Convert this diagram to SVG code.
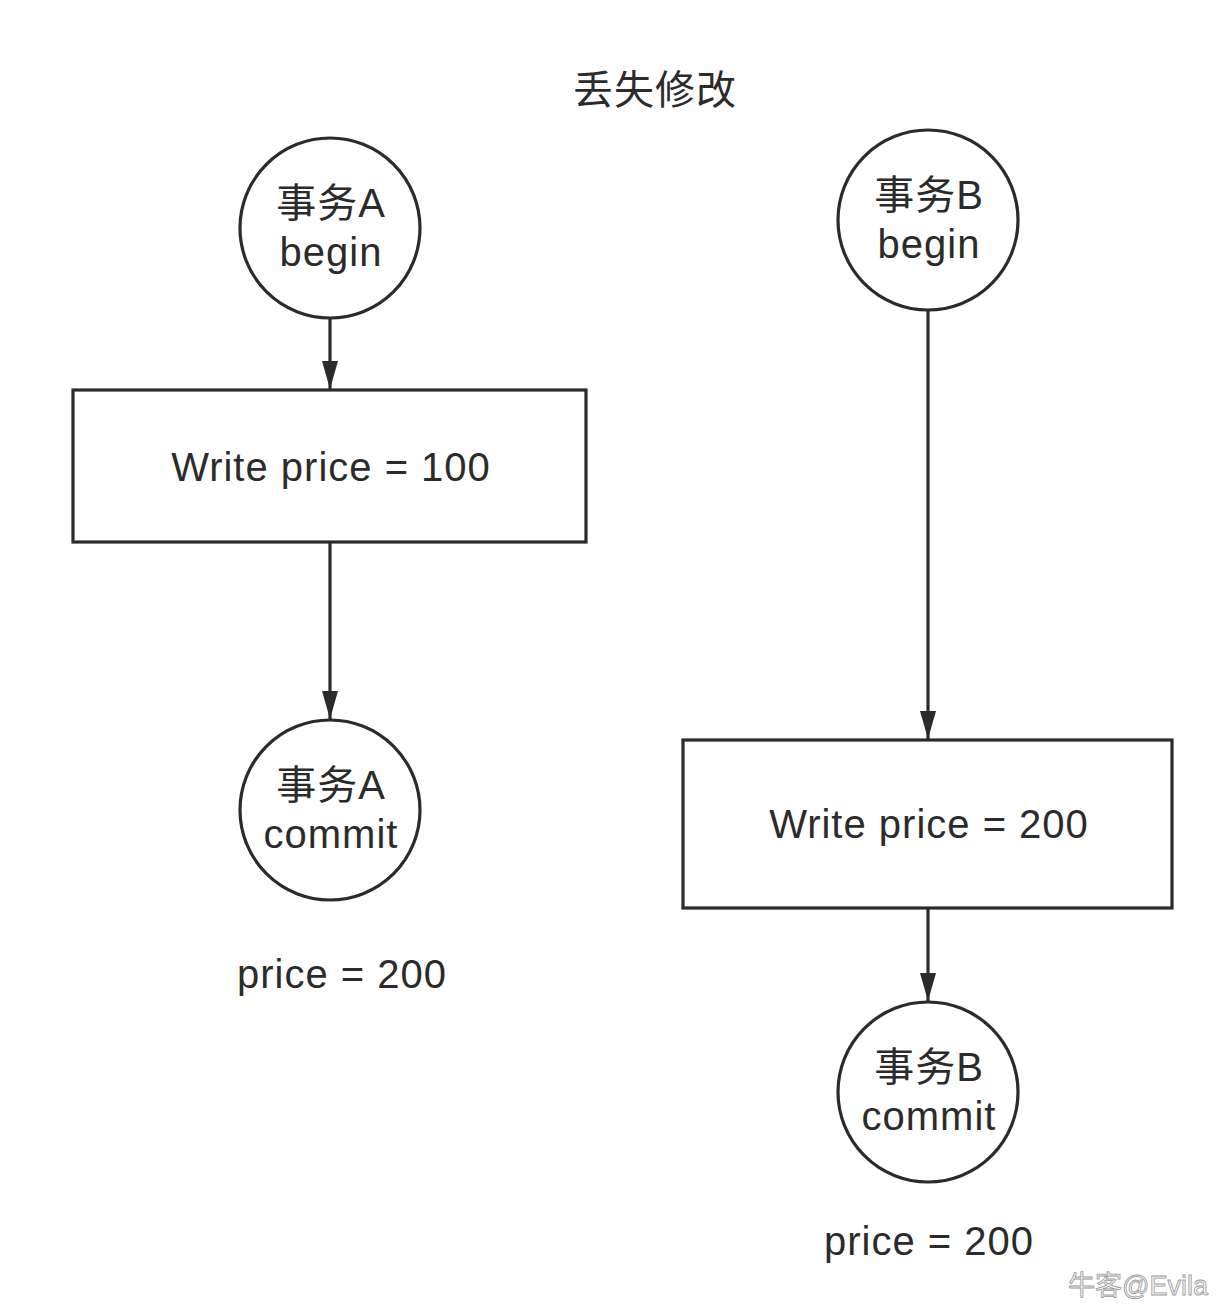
<svg xmlns="http://www.w3.org/2000/svg" width="1216" height="1308" viewBox="0 0 1216 1308">
<style>
.node{fill:#fff;stroke:#2b2b2b;stroke-width:3.2}
.t{font-family:"Liberation Sans","Noto Sans CJK SC",sans-serif;font-size:40px;fill:#2b2b2b;text-anchor:middle;letter-spacing:1px}
.c{stroke:#2b2b2b;stroke-width:3.2;fill:none}
.wm{font-family:"Liberation Sans","Noto Sans CJK SC",sans-serif;font-size:27px;fill:#f4f4f4;stroke:#9a9a9a;stroke-width:0.8}
</style>
<defs>
<marker id="arr" viewBox="0 0 28 16" refX="28" refY="8" markerWidth="28" markerHeight="16" markerUnits="userSpaceOnUse" orient="auto">
<path d="M0,0 L28,8 L0,16 Z" fill="#2b2b2b"/>
</marker>
</defs>
<rect width="1216" height="1308" fill="#fff"/>
<text id="title" class="t" x="655" y="104" letter-spacing="0">丢失修改</text>
<g id="connectors">
<line class="c" x1="330" y1="319" x2="330" y2="389" marker-end="url(#arr)"/>
<line class="c" x1="330" y1="543" x2="330" y2="719" marker-end="url(#arr)"/>
<line class="c" x1="928" y1="311" x2="928" y2="739" marker-end="url(#arr)"/>
<line class="c" x1="928" y1="909" x2="928" y2="1001" marker-end="url(#arr)"/>
</g>
<g id="a-begin">
<circle class="node" cx="330" cy="228" r="90"/>
<text class="t" x="331" y="217">事务A</text>
<text class="t" x="331" y="266">begin</text>
</g>
<g id="a-write">
<rect class="node" x="73" y="390" width="513" height="152"/>
<text class="t" x="331" y="481">Write price = 100</text>
</g>
<g id="a-commit">
<circle class="node" cx="330" cy="810" r="90"/>
<text class="t" x="331" y="799">事务A</text>
<text class="t" x="331" y="848">commit</text>
</g>
<text id="a-price" class="t" x="342" y="988" letter-spacing="1.5">price = 200</text>
<g id="b-begin">
<circle class="node" cx="928" cy="220" r="90"/>
<text class="t" x="929" y="209">事务B</text>
<text class="t" x="929" y="258">begin</text>
</g>
<g id="b-write">
<rect class="node" x="683" y="740" width="489" height="168"/>
<text class="t" x="929" y="838">Write price = 200</text>
</g>
<g id="b-commit">
<circle class="node" cx="928" cy="1092" r="90"/>
<text class="t" x="929" y="1081">事务B</text>
<text class="t" x="929" y="1130">commit</text>
</g>
<text id="b-price" class="t" x="929" y="1255" letter-spacing="1.5">price = 200</text>
<text class="wm" x="1068" y="1295">牛客@Evila</text>
</svg>
